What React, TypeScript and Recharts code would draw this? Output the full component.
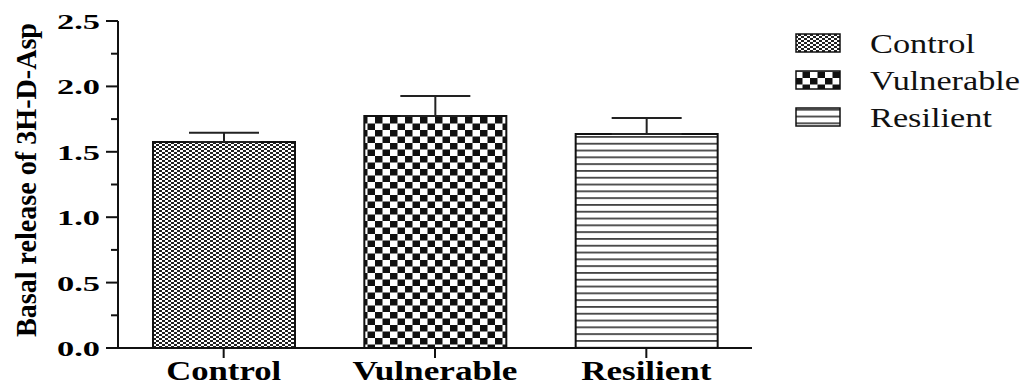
import React from 'react';
import { BarChart, Bar, XAxis, YAxis, Cell, ErrorBar, Legend, Label } from 'recharts';

// Group names, mean basal release and SEM (upper error only)
const categories = ['Control', 'Vulnerable', 'Resilient'];
const meanRelease = [1.575, 1.774, 1.636];
const semRelease = [0.071, 0.153, 0.122];

// Y axis: labelled majors every 0.5, unlabelled minors between
const yTicks = [0, 0.25, 0.5, 0.75, 1, 1.25, 1.5, 1.75, 2, 2.25, 2.5];

const patternIds = ['control', 'vulnerable', 'resilient'];

const SERIF = "'Liberation Serif', 'Times New Roman', serif";
const INK = '#111';

// Stretched text widths (px) for the wide typeface look
const xLabelLen: Record<string, number> = { Control: 115, Vulnerable: 165, Resilient: 130 };
const legendLabelLen: Record<string, number> = { Control: 105, Vulnerable: 150, Resilient: 122 };

const data = categories.map((name, i) => ({
  name,
  value: meanRelease[i],
  err: [0, semRelease[i]],
}));

function PatternDefs({ prefix }: { prefix: string }) {
  return (
    <defs>
      <pattern id={`${prefix}-control`} patternUnits="userSpaceOnUse" width={6} height={4}>
        <rect width={6} height={4} fill="#fff" />
        <rect x={0} y={0} width={3} height={2} fill="#222" />
        <rect x={3} y={2} width={3} height={2} fill="#222" />
      </pattern>
      <pattern id={`${prefix}-vulnerable`} patternUnits="userSpaceOnUse" width={15} height={13}>
        <rect width={15} height={13} fill="#fff" />
        <rect x={0} y={0} width={7.5} height={6.5} fill="#111" />
        <rect x={7.5} y={6.5} width={7.5} height={6.5} fill="#111" />
      </pattern>
      <pattern id={`${prefix}-resilient`} patternUnits="userSpaceOnUse" width={8} height={6.8}>
        <rect width={8} height={6.8} fill="#fff" />
        <rect x={0} y={0} width={8} height={1.8} fill="#444" />
      </pattern>
    </defs>
  );
}

function YTick(props: any) {
  const { x, y, payload } = props;
  const v = Number(payload.value);
  const major = Math.abs(v * 2 - Math.round(v * 2)) < 1e-6;
  const axisX = x + 18; // tickSize + tickMargin
  return (
    <g>
      <line x1={axisX - (major ? 12 : 7)} x2={axisX} y1={y} y2={y} stroke={INK} strokeWidth={2} />
      {major && (
        <text
          x={x}
          y={y}
          dy={8}
          textAnchor="end"
          style={{ fontFamily: SERIF, fontWeight: 'bold', fontSize: 21 }}
          fill="#000"
          textLength={43}
          lengthAdjust="spacingAndGlyphs"
        >
          {v.toFixed(1)}
        </text>
      )}
    </g>
  );
}

function XTick(props: any) {
  const { x, y, payload } = props;
  const name = String(payload.value);
  return (
    <text
      x={x}
      y={y}
      dy={20}
      textAnchor="middle"
      style={{ fontFamily: SERIF, fontWeight: 'bold', fontSize: 27 }}
      fill="#000"
      textLength={xLabelLen[name]}
      lengthAdjust="spacingAndGlyphs"
    >
      {name}
    </text>
  );
}

function YAxisTitle() {
  return (
    <text
      x={36}
      y={180}
      transform="rotate(-90, 36, 180)"
      textAnchor="middle"
      style={{ fontFamily: SERIF, fontWeight: 'bold', fontSize: 30 }}
      fill="#000"
      textLength={314}
      lengthAdjust="spacingAndGlyphs"
    >
      Basal release of 3H-D-Asp
    </text>
  );
}

function LegendContent() {
  return (
    <svg width={227} height={140} style={{ display: 'block' }}>
      <PatternDefs prefix="lg" />
      {categories.map((c, i) => {
        const top = 34 + i * 37;
        return (
          <g key={c}>
            <rect
              x={1}
              y={top}
              width={44}
              height={18}
              fill={`url(#lg-${patternIds[i]})`}
              stroke={INK}
              strokeWidth={1.5}
            />
            <text
              x={75}
              y={top + 19}
              style={{ fontFamily: SERIF, fontSize: 27, fontWeight: 'normal' }}
              fill="#111"
              textLength={legendLabelLen[c]}
              lengthAdjust="spacingAndGlyphs"
            >
              {c}
            </text>
          </g>
        );
      })}
    </svg>
  );
}

export default function App() {
  return (
    <div style={{ position: 'absolute', left: 0, top: 0, width: 1022, height: 385, background: '#fff' }}>
      <BarChart
        width={1022}
        height={385}
        data={data}
        margin={{ top: 21, right: 270, bottom: 0, left: 0 }}
      >
        <PatternDefs prefix="bar" />
        <XAxis
          dataKey="name"
          interval={0}
          height={37}
          tickSize={10}
          tickMargin={2}
          axisLine={{ stroke: INK, strokeWidth: 2 }}
          tickLine={{ stroke: INK, strokeWidth: 2 }}
          tick={<XTick />}
        />
        <YAxis
          type="number"
          domain={[0, 2.5]}
          ticks={yTicks}
          interval={0}
          width={118}
          tickSize={12}
          tickMargin={6}
          tickLine={false}
          axisLine={{ stroke: INK, strokeWidth: 2 }}
          tick={<YTick />}
        >
          <Label content={() => <YAxisTitle />} />
        </YAxis>
        <Legend
          layout="vertical"
          align="center"
          verticalAlign="middle"
          wrapperStyle={{ left: 795, top: 0, width: 227, height: 140 }}
          content={() => <LegendContent />}
        />
        <Bar dataKey="value" barSize={142} stroke={INK} strokeWidth={2} isAnimationActive={false}>
          {data.map((d, i) => (
            <Cell key={d.name} fill={`url(#bar-${patternIds[i]})`} />
          ))}
          <ErrorBar dataKey="err" width={35} stroke="#222" strokeWidth={2} isAnimationActive={false} />
        </Bar>
      </BarChart>
    </div>
  );
}
